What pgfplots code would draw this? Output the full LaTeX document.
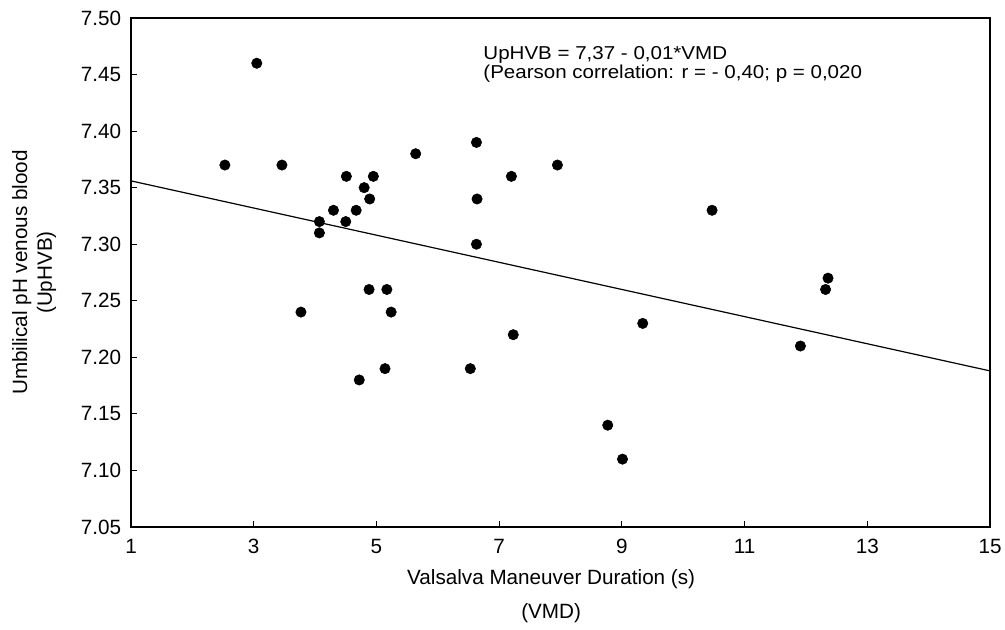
\documentclass[border=0pt]{standalone}
\usepackage{fontspec}
\setmainfont{Liberation Sans}
\newfontfamily\annfont{Liberation Sans}[FakeStretch=1.1]
\usepackage{pgfplots}
\pgfplotsset{compat=1.18}
\begin{document}
\fontsize{15.5pt}{18.7pt}\selectfont
\begin{tikzpicture}
\path[use as bounding box] (-98.25pt,-77.25pt) rectangle (655.5pt,395.25pt);
\begin{axis}[
  scale only axis,
  width=644.25pt, height=381.75pt,
  xmin=1, xmax=15, ymin=7.05, ymax=7.50,
  xtick={1,3,5,7,9,11,13,15},
  ytick={7.05,7.10,7.15,7.20,7.25,7.30,7.35,7.40,7.45,7.50},
  /pgf/number format/assume math mode=true,
  yticklabel style={/pgf/number format/fixed, /pgf/number format/fixed zerofill, /pgf/number format/precision=2, xshift=-2pt},
  xticklabel style={yshift=-4pt},
  tick align=inside, xtick pos=bottom, ytick pos=left,
  major tick length=4.5pt,
  axis line style={line width=0.9pt},
  tick style={line width=0.8pt, black},
  xlabel={Valsalva Maneuver Duration (s)\\[7pt](VMD)},
  xlabel style={align=center, yshift=-1pt, xshift=-7pt},
  ylabel={Umbilical pH venous blood\\(UpHVB)},
  ylabel style={align=center, yshift=8pt},
]
\addplot[only marks, mark=*, mark size=3.9pt, black] coordinates {
(3.05,7.46) (2.53,7.37) (3.46,7.37) (4.51,7.36) (4.95,7.36) (4.80,7.35)
(4.89,7.34) (4.30,7.33) (4.67,7.33) (4.07,7.32) (4.50,7.32) (4.07,7.31)
(5.64,7.38) (6.63,7.39) (6.64,7.34) (6.63,7.30) (7.20,7.36) (7.95,7.37)
(4.88,7.26) (5.17,7.26) (3.77,7.24) (5.24,7.24) (7.23,7.22) (5.14,7.19)
(4.72,7.18) (6.53,7.19) (10.47,7.33) (12.36,7.27) (12.32,7.26) (9.34,7.23)
(11.91,7.21) (8.77,7.14) (9.01,7.11)
};
\addplot[black, line width=0.9pt] coordinates {(1,7.356) (15,7.188)};
\node[anchor=north west, align=left, inner sep=0pt, font=\annfont\fontsize{14pt}{12.5pt}\selectfont]
  at (axis cs:6.74,7.475) {UpHVB = 7,37 - 0,01*VMD\\(Pearson correlation: r = - 0,40; p = 0,020};
\end{axis}
\end{tikzpicture}
\end{document}
